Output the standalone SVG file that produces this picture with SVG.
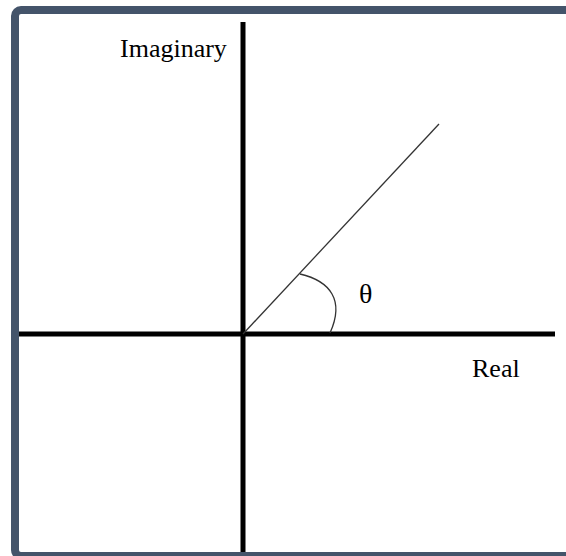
<svg xmlns="http://www.w3.org/2000/svg" width="566" height="556" viewBox="0 0 566 556">
<style>
.axis{stroke:#000;stroke-width:5;fill:none}
.thin{stroke:#333;stroke-width:1.3;fill:none}
</style>
<rect x="0" y="0" width="566" height="556" fill="#fff"/>
<rect id="frame" x="15" y="10" width="620" height="546" rx="6" ry="6" fill="#fff" stroke="#44546A" stroke-width="8"/>
<g id="connectors">
<line class="axis" x1="19" y1="334" x2="555" y2="334"/>
<line class="axis" x1="243" y1="22" x2="243" y2="552"/>
<line class="thin" x1="243" y1="334" x2="439" y2="124"/>
<path class="thin" d="M300,274 C330,281 345,300 330,333"/>
</g>
<g id="imaginary"><text x="120" y="57" font-family="'Liberation Serif', 'Times New Roman', serif" font-size="26" fill="#000">Imaginary</text></g>
<g id="theta"><text x="359" y="303" font-family="'Liberation Serif', 'Times New Roman', serif" font-size="28" fill="#000">θ</text></g>
<g id="real"><text x="472" y="377" font-family="'Liberation Serif', 'Times New Roman', serif" font-size="26" fill="#000">Real</text></g>
</svg>
